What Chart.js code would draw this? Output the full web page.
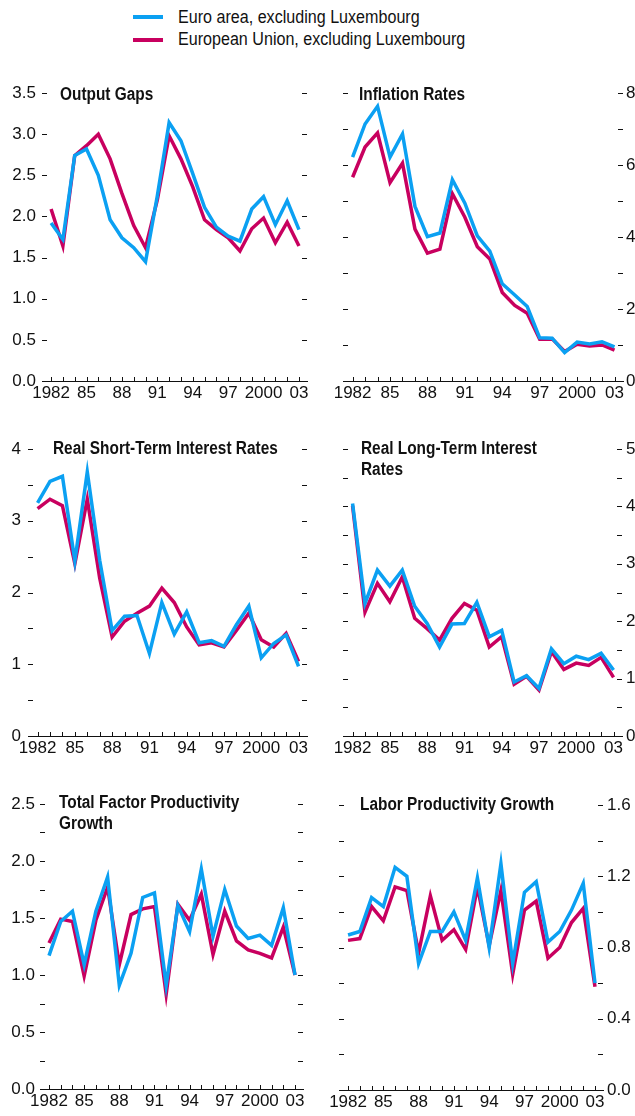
<!DOCTYPE html>
<html>
<head>
<meta charset="utf-8">
<script src="https://cdn.jsdelivr.net/npm/chart.js@4.4.1/dist/chart.umd.min.js"></script>
<style>
  body { margin: 0; background: #fff; }
  #page { position: relative; width: 635px; height: 1116px; overflow: hidden; font-family: "Liberation Sans", Arial, sans-serif; color: #111; }
  canvas { position: absolute; }
  .title { position: absolute; font-weight: bold; font-size: 17.5px; line-height: 21px; white-space: nowrap; transform: scaleX(0.88); transform-origin: 0 0; }
  .legend { position: absolute; left: 178px; font-size: 17.5px; line-height: 21px; white-space: nowrap; transform: scaleX(0.92); transform-origin: 0 0; }
  .swatch { position: absolute; left: 133px; width: 30px; height: 4px; }
</style>
</head>
<body>
<div id="page">
  <div class="swatch" style="top:15px; background:#0ba0f2"></div>
  <div class="legend" style="top:7px">Euro area, excluding Luxembourg</div>
  <div class="swatch" style="top:38px; background:#c8005f"></div>
  <div class="legend" style="top:29px">European Union, excluding Luxembourg</div>

  <canvas id="c1" width="320" height="335" style="left:0; top:75px"></canvas>
  <canvas id="c2" width="315" height="335" style="left:320px; top:75px"></canvas>
  <canvas id="c3" width="320" height="345" style="left:0; top:430px"></canvas>
  <canvas id="c4" width="315" height="345" style="left:320px; top:430px"></canvas>
  <canvas id="c5" width="320" height="331" style="left:0; top:785px"></canvas>
  <canvas id="c6" width="315" height="331" style="left:320px; top:785px"></canvas>

  <div class="title" style="left:60px; top:84px">Output Gaps</div>
  <div class="title" style="left:359px; top:84px">Inflation Rates</div>
  <div class="title" style="left:53px; top:438px">Real Short-Term Interest Rates</div>
  <div class="title" style="left:361px; top:438px">Real Long-Term Interest<br>Rates</div>
  <div class="title" style="left:59px; top:792px">Total Factor Productivity<br>Growth</div>
  <div class="title" style="left:360px; top:794px">Labor Productivity Growth</div>
</div>

<script>
const years = [1982, 1983, 1984, 1985, 1986, 1987, 1988, 1989, 1990, 1991, 1992,
  1993, 1994, 1995, 1996, 1997, 1998, 1999, 2000, 2001, 2002, 2003]
const yearLabels = [1982, 1985, 1988, 1991, 1994, 1997, 2000, 2003]
const seriesNames = ["Euro area, excluding Luxembourg", "European Union, excluding Luxembourg"]

// Output gaps
const gapEuro = [1.92, 1.72, 2.74, 2.82, 2.50, 1.96, 1.74, 1.62, 1.45, 2.25, 3.14,
  2.92, 2.52, 2.11, 1.87, 1.76, 1.70, 2.09, 2.24, 1.90, 2.19, 1.84]
const gapEU = [2.09, 1.64, 2.74, 2.86, 3.00, 2.70, 2.28, 1.89, 1.62, 2.20, 2.98,
  2.70, 2.36, 1.96, 1.84, 1.74, 1.58, 1.85, 1.98, 1.68, 1.93, 1.64]

// Inflation rates
const inflEuro = [6.22, 7.14, 7.63, 6.22, 6.86, 4.85, 4.01, 4.11, 5.59, 4.94, 4.03,
  3.61, 2.70, 2.39, 2.07, 1.20, 1.19, 0.79, 1.08, 1.03, 1.09, 0.95]
const inflEU = [5.66, 6.50, 6.89, 5.51, 6.05, 4.22, 3.55, 3.66, 5.20, 4.55, 3.73,
  3.39, 2.46, 2.10, 1.88, 1.16, 1.17, 0.82, 1.02, 0.97, 1.00, 0.86]

// Real short-term interest rates
const shortEuro = [3.25, 3.55, 3.62, 2.44, 3.68, 2.45, 1.47, 1.67, 1.68, 1.15, 1.86,
  1.42, 1.73, 1.30, 1.33, 1.25, 1.55, 1.81, 1.09, 1.29, 1.41, 0.97]
const shortEU = [3.17, 3.30, 3.21, 2.40, 3.30, 2.20, 1.38, 1.60, 1.71, 1.81, 2.06,
  1.86, 1.52, 1.27, 1.30, 1.24, 1.47, 1.71, 1.34, 1.24, 1.43, 1.04]

// Real long-term interest rates
const longEuro = [4.05, 2.31, 2.89, 2.61, 2.89, 2.26, 1.96, 1.55, 1.95, 1.96, 2.33,
  1.73, 1.84, 0.94, 1.05, 0.83, 1.52, 1.26, 1.39, 1.33, 1.44, 1.15]
const longEU = [4.01, 2.16, 2.66, 2.34, 2.77, 2.05, 1.87, 1.67, 2.05, 2.31, 2.19,
  1.55, 1.73, 0.90, 1.04, 0.80, 1.47, 1.16, 1.27, 1.23, 1.37, 1.02]

// Total factor productivity growth
const tfpEuro = [1.17, 1.47, 1.56, 1.09, 1.56, 1.86, 0.91, 1.19, 1.68, 1.72, 0.91,
  1.61, 1.38, 1.93, 1.34, 1.75, 1.43, 1.32, 1.35, 1.26, 1.59, 1.00]
const tfpEU = [1.28, 1.49, 1.47, 0.99, 1.48, 1.77, 1.09, 1.53, 1.58, 1.60, 0.83,
  1.62, 1.48, 1.71, 1.18, 1.56, 1.30, 1.22, 1.19, 1.15, 1.42, 1.00]

// Labor productivity growth
const laborEuro = [0.87, 0.89, 1.08, 1.03, 1.25, 1.20, 0.71, 0.89, 0.89, 1.00, 0.84,
  1.19, 0.80, 1.27, 0.71, 1.11, 1.17, 0.83, 0.89, 1.01, 1.16, 0.60]
const laborEU = [0.84, 0.85, 1.03, 0.95, 1.14, 1.12, 0.77, 1.09, 0.84, 0.90, 0.79,
  1.14, 0.81, 1.12, 0.65, 1.01, 1.06, 0.74, 0.80, 0.94, 1.02, 0.58]

const blue = "#0ba0f2"
const red = "#c8005f"
const xMin = 1981.23
const xMax = 2003.68
const fontFamily = '"Liberation Sans", Arial, sans-serif'

const isWhole = (v, step) => Math.abs(v / step - Math.round(v / step)) < 1e-6

// short inner tick marks on both sides and on the x axis
const tickMarks = {
    id: "tickMarks",
    beforeDatasetsDraw(chart) {
        const { ctx, chartArea: a, scales: { x, y } } = chart
        ctx.save()
        ctx.strokeStyle = "#111"
        ctx.lineWidth = 1
        ctx.beginPath()
        y.ticks.forEach(t => {
            const py = Math.round(y.getPixelForValue(t.value)) + 0.5
            ctx.moveTo(a.left, py); ctx.lineTo(a.left + 5, py)
            ctx.moveTo(a.right - 5, py); ctx.lineTo(a.right, py)
        })
        x.ticks.forEach(t => {
            if (!isWhole(t.value, 1)) return
            const px = Math.round(x.getPixelForValue(t.value)) + 0.5
            ctx.moveTo(px, a.bottom); ctx.lineTo(px, a.bottom - 4)
        })
        ctx.stroke()
        ctx.restore()
    }
}

function makePanel(id, euro, eu, o) {
    const yAxis = {
        position: o.side,
        min: 0,
        max: o.yMax,
        afterFit: s => { s.width = o.axisW },
        grid: { display: false, drawTicks: false },
        border: { display: false },
        ticks: {
            stepSize: o.yStep,
            maxTicksLimit: 100,
            padding: o.labelPad,
            color: "#111",
            font: { family: fontFamily, size: 17 },
            callback: v => isWhole(v, o.labelStep) ? v.toFixed(o.digits) : ""
        }
    }
    const padding = { top: o.padTop, left: 0, right: 0, bottom: 0 }
    if (o.side === "left") padding.right = o.padSide
    else padding.left = o.padSide

    new Chart(document.getElementById(id), {
        type: "line",
        data: {
            datasets: [
                { label: seriesNames[0], data: years.map((yr, i) => ({ x: yr, y: euro[i] })), borderColor: blue },
                { label: seriesNames[1], data: years.map((yr, i) => ({ x: yr, y: eu[i] })), borderColor: red }
            ]
        },
        options: {
            responsive: false,
            animation: false,
            devicePixelRatio: 1,
            layout: { padding },
            elements: {
                line: { borderWidth: 3.5, tension: 0, borderJoinStyle: "miter" },
                point: { radius: 0, hoverRadius: 0 }
            },
            plugins: { legend: { display: false }, tooltip: { enabled: false } },
            scales: {
                x: {
                    type: "linear",
                    min: xMin,
                    max: xMax,
                    afterFit: s => { s.height = o.axisH },
                    grid: { display: false, drawTicks: false },
                    border: { display: true, color: "#111", width: 1 },
                    ticks: {
                        stepSize: 1,
                        includeBounds: false,
                        maxTicksLimit: 100,
                        autoSkip: false,
                        maxRotation: 0,
                        padding: 2,
                        color: "#111",
                        font: { family: fontFamily, size: 17 },
                        callback: v => {
                            const yr = Math.round(v)
                            if (!isWhole(v, 1) || !yearLabels.includes(yr)) return ""
                            return (yr === 1982 || yr === 2000) ? String(yr) : String(yr).slice(2)
                        }
                    }
                },
                y: yAxis
            }
        },
        plugins: [tickMarks]
    })
}

makePanel("c1", gapEuro, gapEU, { side: "left", yMax: 3.5, yStep: 0.25, labelStep: 0.5, digits: 1, axisW: 42, labelPad: 6, padSide: 13, padTop: 18, axisH: 29 })
makePanel("c2", inflEuro, inflEU, { side: "right", yMax: 8, yStep: 1, labelStep: 2, digits: 0, axisW: 12, labelPad: 3, padSide: 23, padTop: 18, axisH: 29 })
makePanel("c3", shortEuro, shortEU, { side: "left", yMax: 4, yStep: 0.5, labelStep: 1, digits: 0, axisW: 28, labelPad: 7, padSide: 13, padTop: 19, axisH: 39 })
makePanel("c4", longEuro, longEU, { side: "right", yMax: 5, yStep: 0.5, labelStep: 1, digits: 0, axisW: 13, labelPad: 4, padSide: 23, padTop: 19, axisH: 39 })
makePanel("c5", tfpEuro, tfpEU, { side: "left", yMax: 2.5, yStep: 0.25, labelStep: 0.5, digits: 1, axisW: 40, labelPad: 5, padSide: 17, padTop: 19, axisH: 27 })
makePanel("c6", laborEuro, laborEU, { side: "right", yMax: 1.6, yStep: 0.2, labelStep: 0.4, digits: 1, axisW: 32, labelPad: 4, padSide: 19, padTop: 20, axisH: 26 })
</script>
</body>
</html>
